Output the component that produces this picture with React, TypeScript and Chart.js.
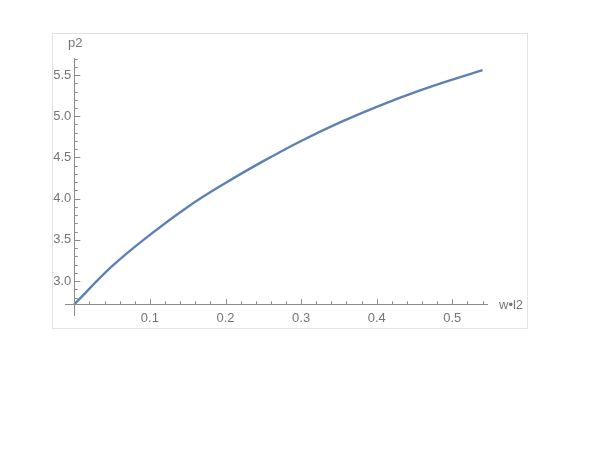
import React, { useEffect, useRef } from "react";
import { Chart, registerables } from "chart.js";

Chart.register(...registerables);

const xValues = [0, 0.05, 0.1, 0.15, 0.2, 0.25, 0.3, 0.35, 0.4, 0.45, 0.5, 0.54];
const pValues = [2.718, 3.18, 3.56, 3.9, 4.19, 4.455, 4.7, 4.92, 5.115, 5.29, 5.445, 5.56];

const xMajorTicks = [0.1, 0.2, 0.3, 0.4, 0.5];
const xTickLabels = ["0.1", "0.2", "0.3", "0.4", "0.5"];
const yMajorTicks = [3.0, 3.5, 4.0, 4.5, 5.0, 5.5];
const yTickLabels = ["3.0", "3.5", "4.0", "4.5", "5.0", "5.5"];
const xMinorTicks = [0.02, 0.04, 0.06, 0.08, 0.12, 0.14, 0.16, 0.18, 0.22, 0.24, 0.26, 0.28, 0.32, 0.34, 0.36, 0.38, 0.42, 0.44, 0.46, 0.48, 0.52, 0.54];
const yMinorTicks = [2.8, 2.9, 3.1, 3.2, 3.3, 3.4, 3.6, 3.7, 3.8, 3.9, 4.1, 4.2, 4.3, 4.4, 4.6, 4.7, 4.8, 4.9, 5.1, 5.2, 5.3, 5.4, 5.6, 5.7];

const xAxisTitle = "w•l2";
const yAxisTitle = "p2";
const xOrigin = 0;
const yOrigin = 2.718;

const AXIS_COLOR = "#8c8c8c";
const TEXT_COLOR = "#757575";
const FONT = '13px "Liberation Sans", Arial, sans-serif';

const axesPlugin = {
  id: "mmaAxes",
  afterDatasetsDraw(chart: any) {
    const { ctx, chartArea } = chart;
    const xs = chart.scales.x;
    const ys = chart.scales.y;
    const ox = xs.getPixelForValue(xOrigin);
    const oy = ys.getPixelForValue(yOrigin);
    ctx.save();
    ctx.strokeStyle = AXIS_COLOR;
    ctx.lineWidth = 1;
    ctx.beginPath();
    ctx.moveTo(chartArea.left, Math.round(oy) + 0.5);
    ctx.lineTo(chartArea.right, Math.round(oy) + 0.5);
    ctx.moveTo(Math.round(ox) + 0.5, chartArea.top);
    ctx.lineTo(Math.round(ox) + 0.5, chartArea.bottom);
    ctx.stroke();
    ctx.beginPath();
    xMajorTicks.forEach((v) => {
      const px = Math.round(xs.getPixelForValue(v)) + 0.5;
      ctx.moveTo(px, oy);
      ctx.lineTo(px, oy - 5);
    });
    xMinorTicks.forEach((v) => {
      const px = Math.round(xs.getPixelForValue(v)) + 0.5;
      ctx.moveTo(px, oy);
      ctx.lineTo(px, oy - 3);
    });
    yMajorTicks.forEach((v) => {
      const py = Math.round(ys.getPixelForValue(v)) + 0.5;
      ctx.moveTo(ox, py);
      ctx.lineTo(ox + 6, py);
    });
    yMinorTicks.forEach((v) => {
      const py = Math.round(ys.getPixelForValue(v)) + 0.5;
      ctx.moveTo(ox, py);
      ctx.lineTo(ox + 3.5, py);
    });
    ctx.stroke();
    ctx.fillStyle = TEXT_COLOR;
    ctx.font = FONT;
    ctx.textAlign = "center";
    ctx.textBaseline = "middle";
    xMajorTicks.forEach((v, i) => {
      ctx.fillText(xTickLabels[i], xs.getPixelForValue(v), oy + 14);
    });
    ctx.textAlign = "right";
    yMajorTicks.forEach((v, i) => {
      ctx.fillText(yTickLabels[i], ox - 3, ys.getPixelForValue(v));
    });
    ctx.textAlign = "center";
    ctx.fillText(yAxisTitle, ox + 1, chartArea.top - 15);
    ctx.textAlign = "left";
    ctx.fillText(xAxisTitle, chartArea.right + 11, oy + 1);
    ctx.restore();
  },
};

export default function App() {
  const canvasRef = useRef<HTMLCanvasElement | null>(null);

  useEffect(() => {
    if (!canvasRef.current) return;
    const chart = new Chart(canvasRef.current, {
      type: "line",
      data: {
        datasets: [
          {
            data: xValues.map((x, i) => ({ x, y: pValues[i] })),
            borderColor: "#5e81b5",
            borderWidth: 2.4,
            pointRadius: 0,
            fill: false,
            tension: 0.4,
          },
        ],
      },
      options: {
        responsive: false,
        animation: false,
        maintainAspectRatio: false,
        layout: { padding: { left: 65, right: 112, top: 58, bottom: 134 } },
        plugins: { legend: { display: false }, tooltip: { enabled: false } },
        scales: {
          x: { type: "linear", display: false, min: -0.0123, max: 0.5472 },
          y: { type: "linear", display: false, min: 2.576, max: 5.707 },
        },
      },
      plugins: [axesPlugin],
    });
    return () => chart.destroy();
  }, []);

  return (
    <div style={{ position: "absolute", left: 0, top: 0, width: 600, height: 450, background: "#fff" }}>
      <div
        style={{
          position: "absolute",
          left: 52,
          top: 33,
          width: 474,
          height: 294,
          border: "1px solid #e3e3e3",
        }}
      />
      <canvas ref={canvasRef} width={600} height={450} style={{ position: "absolute", left: 0, top: 0 }} />
    </div>
  );
}
